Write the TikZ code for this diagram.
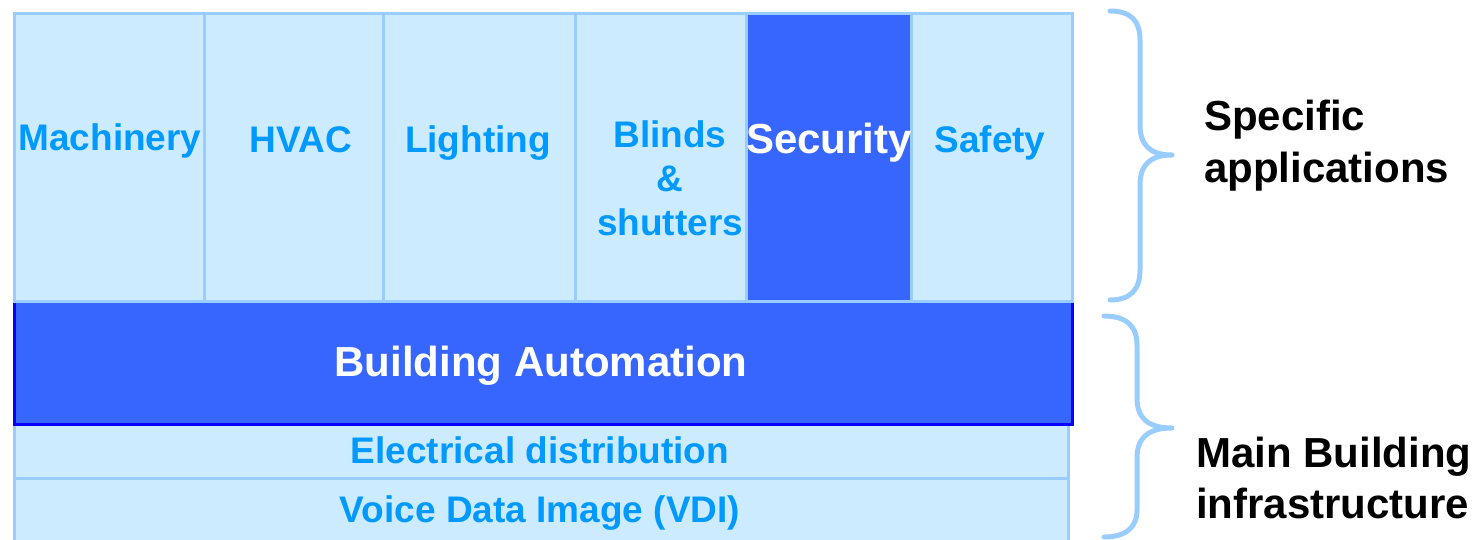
\documentclass[tikz,border=0pt]{standalone}
\usepackage{fontspec}
\setmainfont{Liberation Sans}
\definecolor{paleblue}{HTML}{CCEBFF}
\definecolor{edgeblue}{HTML}{99CCFF}
\definecolor{royal}{HTML}{3766FF}
\definecolor{deepblue}{HTML}{0A00FF}
\definecolor{labelblue}{HTML}{0099FF}
\begin{document}
\begin{tikzpicture}[x=1pt,y=-1pt,
  cell/.style={draw=edgeblue,line width=2.5pt,fill=paleblue,rectangle,inner sep=0pt,anchor=north west},
  darkcell/.style={draw=edgeblue,line width=2.5pt,fill=royal,rectangle,inner sep=0pt,anchor=north west},
  lbl/.style={font=\bfseries\fontsize{37}{44}\selectfont,text=labelblue,anchor=base,inner sep=0pt},
  whitelbl/.style={font=\bfseries\fontsize{42}{50}\selectfont,text=white,anchor=base,inner sep=0pt},
  sidelbl/.style={font=\bfseries\fontsize{42}{52}\selectfont,text=black,anchor=base west,inner sep=0pt,align=left},
  brace/.style={draw=edgeblue,line width=5pt,line cap=round,line join=round}]
\useasboundingbox (0,0) rectangle (1481,539);

% infrastructure layers
\node[cell,minimum width=1054pt,minimum height=70pt] (vdi) at (13,477) {};
\node[cell,minimum width=1054pt,minimum height=54pt] (elec) at (13,423) {};
\node[draw=deepblue,line width=2.5pt,fill=royal,rectangle,inner sep=0pt,anchor=north west,
      minimum width=1058pt,minimum height=123pt] (ba) at (13,300) {};

% application columns
\node[cell,minimum width=190pt,minimum height=288pt] (mach) at (13,12) {};
\node[cell,minimum width=179pt,minimum height=288pt] (hvac) at (203,12) {};
\node[cell,minimum width=192pt,minimum height=288pt] (light) at (382,12) {};
\node[cell,minimum width=171pt,minimum height=288pt] (blinds) at (574,12) {};
\node[darkcell,minimum width=165pt,minimum height=288pt] (sec) at (745,12) {};
\node[cell,minimum width=161pt,minimum height=288pt] (safe) at (910,12) {};

% column labels
\node[lbl] (tmach) at (110,150) {Machinery};
\node[lbl] (thvac) at (301,152) {HVAC};
\node[lbl] (tlight) at (478,152) {Lighting};
\node[lbl] (tbl1) at (670,147) {Blinds};
\node[lbl] (tbl2) at (670,191) {\&};
\node[lbl] (tbl3) at (670,235) {shutters};
\node[whitelbl] (tsec) at (829,153) {Security};
\node[lbl] (tsafe) at (990,152) {Safety};

% layer labels
\node[whitelbl] (tba) at (541,376) {Building Automation};
\node[lbl] (telec) at (540,463) {Electrical distribution};
\node[lbl] (tvdi) at (540,522) {Voice Data Image (VDI)};

% braces
\coordinate (b1s) at (1110,11);
\coordinate (b1t) at (1172,155);
\coordinate (b1e) at (1110,300);
\draw[brace] (b1s) .. controls (1130,11) and (1140,20) .. (1140,40) -- (1140,125)
  .. controls (1140,145) and (1150,155) .. (b1t)
  .. controls (1150,155) and (1140,165) .. (1140,185) -- (1140,270)
  .. controls (1140,290) and (1130,300) .. (b1e);
\coordinate (b2s) at (1104,316);
\coordinate (b2t) at (1172,428);
\coordinate (b2e) at (1104,537);
\draw[brace] (b2s) .. controls (1125,316) and (1137,325) .. (1137,345) -- (1137,398)
  .. controls (1137,418) and (1148,428) .. (b2t)
  .. controls (1148,428) and (1137,438) .. (1137,458) -- (1137,510)
  .. controls (1137,528) and (1125,537) .. (b2e);

% side labels
\node[sidelbl] (tspec1) at (1204,130) {Specific};
\node[sidelbl] (tspec2) at (1204,182) {applications};
\node[sidelbl] (tmain1) at (1196,467) {Main Building};
\node[sidelbl] (tmain2) at (1196,518) {infrastructure};
\end{tikzpicture}
\end{document}
